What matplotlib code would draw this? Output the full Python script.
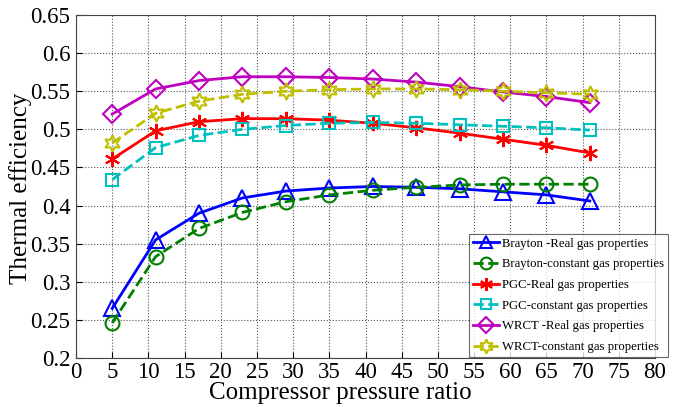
import matplotlib.pyplot as plt
import numpy as np

plt.rcParams['font.family'] = ['Liberation Serif', 'DejaVu Serif']

ratio = [5, 11, 17, 23, 29, 35, 41, 47, 53, 59, 65, 71]
brayton_real = [0.265, 0.355, 0.390, 0.410, 0.419, 0.423, 0.425, 0.424, 0.422, 0.418, 0.414, 0.406]
brayton_const = [0.246, 0.333, 0.370, 0.391, 0.405, 0.414, 0.420, 0.424, 0.427, 0.428, 0.428, 0.428]
pgc_real = [0.461, 0.498, 0.510, 0.514, 0.514, 0.512, 0.508, 0.502, 0.495, 0.487, 0.479, 0.469]
pgc_const = [0.434, 0.476, 0.492, 0.500, 0.505, 0.508, 0.509, 0.508, 0.506, 0.504, 0.502, 0.499]
wrct_real = [0.520, 0.553, 0.564, 0.569, 0.569, 0.568, 0.566, 0.562, 0.556, 0.549, 0.543, 0.535]
wrct_const = [0.482, 0.521, 0.537, 0.546, 0.550, 0.552, 0.553, 0.553, 0.552, 0.550, 0.548, 0.546]

series = [
    ('Brayton -Real gas properties', brayton_real, 'b', '-', '^', 11),
    ('Brayton-constant gas properties', brayton_const, 'g', '--', 'o', 10),
    ('PGC-Real gas properties', pgc_real, 'r', '-', (6, 2, 0), 11),
    ('PGC-constant gas properties', pgc_const, 'c', '--', 's', 8),
    ('WRCT -Real gas properties', wrct_real, 'm', '-', 'D', 9),
    ('WRCT-constant gas properties', wrct_const, 'y', '--', (6, 1, 0), 12),
]
colors = {'b': '#0000ff', 'g': '#008000', 'r': '#ff0000', 'c': '#00bfbf', 'm': '#bf00bf', 'y': '#bfbf00'}

fig = plt.figure(figsize=(6.81, 4.07), dpi=100)
ax = fig.add_axes([76 / 681, 1 - 358 / 407, (655 - 76) / 681, (358 - 15) / 407])

for label, vals, c, ls, mk, ms in series:
    col = colors[c]
    ax.plot(ratio, vals, color=col, linestyle=ls, linewidth=2, marker=mk, markersize=ms,
            markerfacecolor='none', markeredgecolor=col, markeredgewidth=1.5, label=label)

ax.set_xlim(0, 80)
ax.set_ylim(0.2, 0.65)
ax.set_xticks(np.arange(0, 81, 5))
ax.set_yticks(np.arange(0.2, 0.651, 0.05))
ax.set_yticklabels(['0.2', '0.25', '0.3', '0.35', '0.4', '0.45', '0.5', '0.55', '0.6', '0.65'])
ax.grid(True, linestyle=':', color='#555555', linewidth=0.8)
ax.tick_params(direction='in', labelsize=16.5, length=4)
ax.tick_params(axis='y', pad=4)
ax.tick_params(axis='x', pad=3)
for s in ax.spines.values():
    s.set_color('#444444')

# axis labels placed by hand, as in the original figure
ax.set_xlabel('Compressor pressure ratio', fontsize=18)
ax.xaxis.set_label_coords((340 - 76) / (655 - 76), -(393 - 358) / (358 - 15))
ax.xaxis.label.set_va('center')
ax.set_ylabel('Thermal efficiency', fontsize=18)
ax.yaxis.set_label_coords(-(76 - 21) / (655 - 76), (358 - 188) / (358 - 15))
ax.yaxis.label.set_va('center')

leg = ax.legend(loc='lower right', bbox_to_anchor=(668 / 681, 1 - 357 / 407), bbox_transform=fig.transFigure,
                fontsize=9.2, frameon=True, fancybox=False, borderpad=0.3, labelspacing=0.68,
                handlelength=2.0, handletextpad=0.25, borderaxespad=0, markerscale=0.85)
leg.get_frame().set_edgecolor('#444444')
leg.get_frame().set_linewidth(0.8)

fig.savefig('out.png', dpi=100)
